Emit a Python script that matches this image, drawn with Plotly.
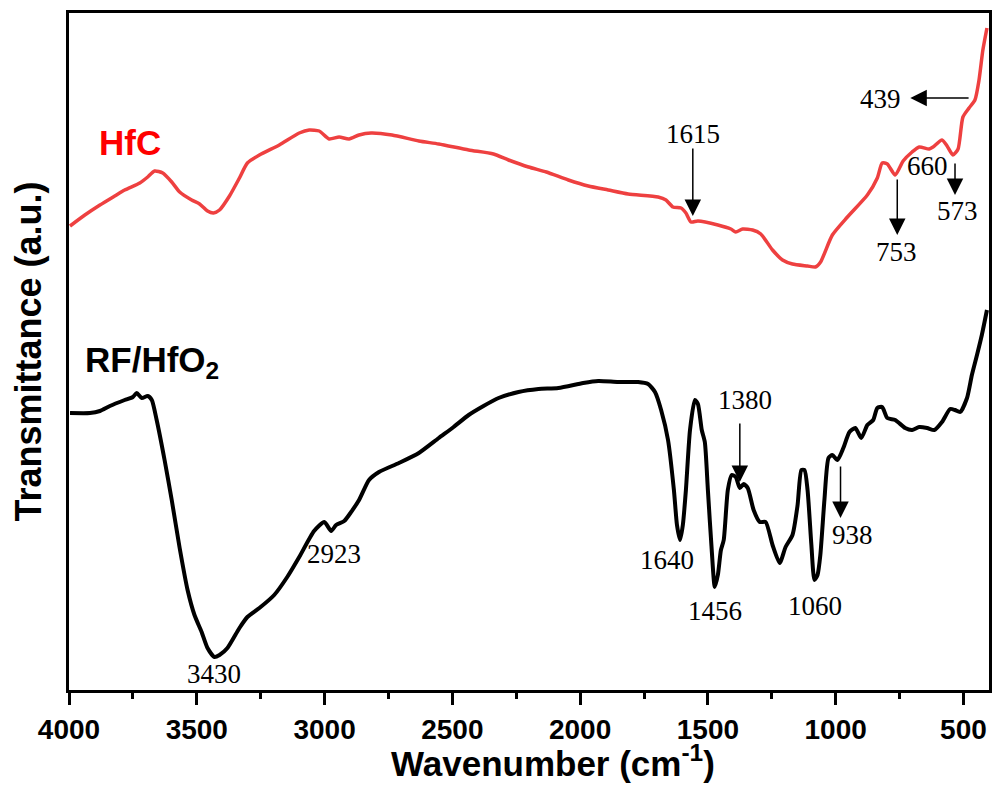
import plotly.graph_objects as go

# HfC spectrum (wavenumber cm-1, transmittance a.u.)
hfc_wn = [3996, 3938, 3879, 3821, 3782, 3723, 3692, 3665, 3633, 3598, 3567, 3520, 3489, 3458, 3435,
          3411, 3372, 3333, 3302, 3255, 3177, 3099, 3060, 3021, 2982, 2943, 2904, 2865, 2818, 2736,
          2631, 2553, 2436, 2339, 2280, 2202, 2132, 2046, 1968, 1890, 1812, 1695, 1664, 1637, 1605,
          1586, 1566, 1539, 1461, 1410, 1391, 1364, 1325, 1293, 1247, 1208, 1169, 1110, 1079, 1059,
          1013, 954, 876, 837, 818, 798, 767, 736, 701, 673, 634, 619, 584, 564, 541, 521, 502, 478,
          455, 439, 424, 408]
hfc_t = [464, 475, 485, 494, 500, 507, 513, 519, 517, 508, 498, 490, 486, 479, 477,
         480, 494, 512, 527, 535, 545, 557, 560, 559, 551, 553, 551, 555, 557, 555,
         549, 546, 540, 536, 530, 523, 518, 510, 504, 500, 496, 493, 490, 483, 482,
         477, 468, 469, 465, 461, 458, 461, 460, 456, 440, 430, 426, 424, 423, 428,
         455, 473, 495, 512, 527, 526, 515, 529, 538, 543, 541, 543, 550, 544, 535, 541, 573, 582,
         590, 610, 640, 662]

# RF/HfO2 spectrum
rf_wn = [3996, 3918, 3879, 3840, 3782, 3750, 3735, 3715, 3692, 3676, 3657, 3626, 3598, 3567, 3536,
         3509, 3481, 3458, 3431, 3411, 3380, 3333, 3302, 3255, 3197, 3146, 3099, 3041, 3001, 2974,
         2955, 2923, 2896, 2865, 2826, 2787, 2709, 2631, 2553, 2495, 2436, 2378, 2319, 2241, 2163,
         2085, 1988, 1929, 1851, 1773, 1734, 1707, 1683, 1656, 1633, 1621, 1609, 1598, 1586, 1570,
         1551, 1539, 1524, 1512, 1500, 1485, 1473, 1461, 1449, 1438, 1422, 1407, 1391, 1375, 1360,
         1344, 1321, 1297, 1274, 1247, 1219, 1196, 1169, 1149, 1134, 1122, 1110, 1095, 1083, 1071,
         1060, 1044, 1028, 1013, 993, 970, 946, 923, 900, 876, 853, 837, 818, 798, 767, 728, 701,
         673, 642, 614, 584, 552, 533, 513, 486, 467, 447, 428, 408]
rf_t = [277, 277, 279, 284, 290, 293, 297, 292, 294, 290, 270, 230, 190, 142, 100,
        75, 58, 42, 33, 35, 42, 62, 73, 82, 95, 113, 133, 159, 168, 159,
        165, 169, 178, 190, 210, 218, 227, 237, 252, 263, 275, 284, 292, 298, 301,
        302, 307, 309, 308, 308, 306, 298, 280, 250, 200, 165, 150, 165, 200, 260,
        290, 286, 260, 248, 200, 140, 103, 115, 140, 150, 200, 215, 213, 202, 206,
        202, 180, 168, 168, 145, 127, 143, 155, 185, 220, 220, 200, 145, 110, 115,
        135, 190, 232, 235, 230, 242, 258, 262, 252, 265, 270, 282, 283, 272, 270, 262, 260,
        263, 262, 260, 268, 281, 280, 278, 292, 315, 335, 355, 380]

x_ticks = [4000, 3500, 3000, 2500, 2000, 1500, 1000, 500]

# peak labels: (text, x, y)
peak_labels = [("3430", 3431, 16), ("2923", 2963, 136), ("1640", 1660, 130), ("1456", 1473, 79),
               ("1380", 1356, 290), ("1060", 1079, 84), ("938", 935, 155), ("1615", 1559, 556),
               ("753", 763, 438), ("660", 642, 524), ("573", 525, 479), ("439", 825, 591)]
# arrows: (tail_x, tail_y, tip_x, tip_y)
arrows = [(1375, 268, 1375, 208), (981, 225, 981, 172), (1559, 543, 1559, 474),
          (759, 512, 759, 455), (533, 528, 533, 495), (474, 592, 708, 592)]

SANS = "Liberation Sans, Arial, sans-serif"
fig = go.Figure()
fig.add_trace(go.Scatter(x=hfc_wn, y=hfc_t, mode="lines", name="HfC",
                         line=dict(color="#EE4040", width=3.5, shape="spline", smoothing=0.6)))
fig.add_trace(go.Scatter(x=rf_wn, y=rf_t, mode="lines", name="RF/HfO2",
                         line=dict(color="black", width=4, shape="spline", smoothing=0.6)))

serif = dict(family="Liberation Serif, Times New Roman, serif", size=27, color="black")
for txt, x, y in peak_labels:
    fig.add_annotation(x=x, y=y, text=txt, showarrow=False, font=serif,
                       xanchor="center", yanchor="middle")
for tx, ty, hx, hy in arrows:
    fig.add_annotation(x=hx, y=hy, ax=tx, ay=ty, axref="x", ayref="y", xref="x", yref="y",
                       text="", showarrow=True, arrowhead=2, arrowsize=2.2, arrowwidth=1.5,
                       arrowcolor="black", standoff=0, startstandoff=0)

fig.add_annotation(x=3762, y=548, text="<b>HfC</b>", showarrow=False,
                   font=dict(family=SANS, size=35, color="#FF0000"),
                   xanchor="center", yanchor="middle")
fig.add_annotation(x=3945, y=328, text="<b>RF/HfO<sub>2</sub></b>", showarrow=False,
                   font=dict(family=SANS, size=35, color="black"),
                   xanchor="left", yanchor="middle")
# x-axis title (offset right of centre as in the original)
fig.add_annotation(x=0.5265, y=-0.069, xref="paper", yref="paper",
                   text="<b>Wavenumber (cm<sup>-1</sup>)</b>", showarrow=False,
                   font=dict(family=SANS, size=35, color="black"),
                   xanchor="center", yanchor="top")

fig.update_layout(
    width=999, height=785,
    margin=dict(l=69, r=7, t=13, b=95),
    paper_bgcolor="white", plot_bgcolor="white",
    showlegend=False,
    font=dict(family=SANS, color="black"),
)
fig.update_xaxes(
    range=[4000, 400], tickvals=x_ticks, ticktext=[str(v) for v in x_ticks],
    ticks="outside", ticklen=12, tickwidth=3, tickcolor="black",
    minor=dict(dtick=250, tick0=0, ticks="outside", ticklen=6, tickwidth=3, tickcolor="black"),
    showline=True, linewidth=3, linecolor="black", mirror=True,
    showgrid=False, zeroline=False,
    tickfont=dict(family=SANS, size=28, color="black", weight="bold"),
)
fig.update_yaxes(
    range=[0, 677], showticklabels=False, ticks="",
    showline=True, linewidth=3, linecolor="black", mirror=True,
    showgrid=False, zeroline=False,
    title=dict(text="<b>Transmittance (a.u.)</b>", standoff=14,
               font=dict(family=SANS, size=36, color="black")),
)

fig.write_html("out.html", config={"displayModeBar": False},
               post_script="document.body.style.margin='0px';")
